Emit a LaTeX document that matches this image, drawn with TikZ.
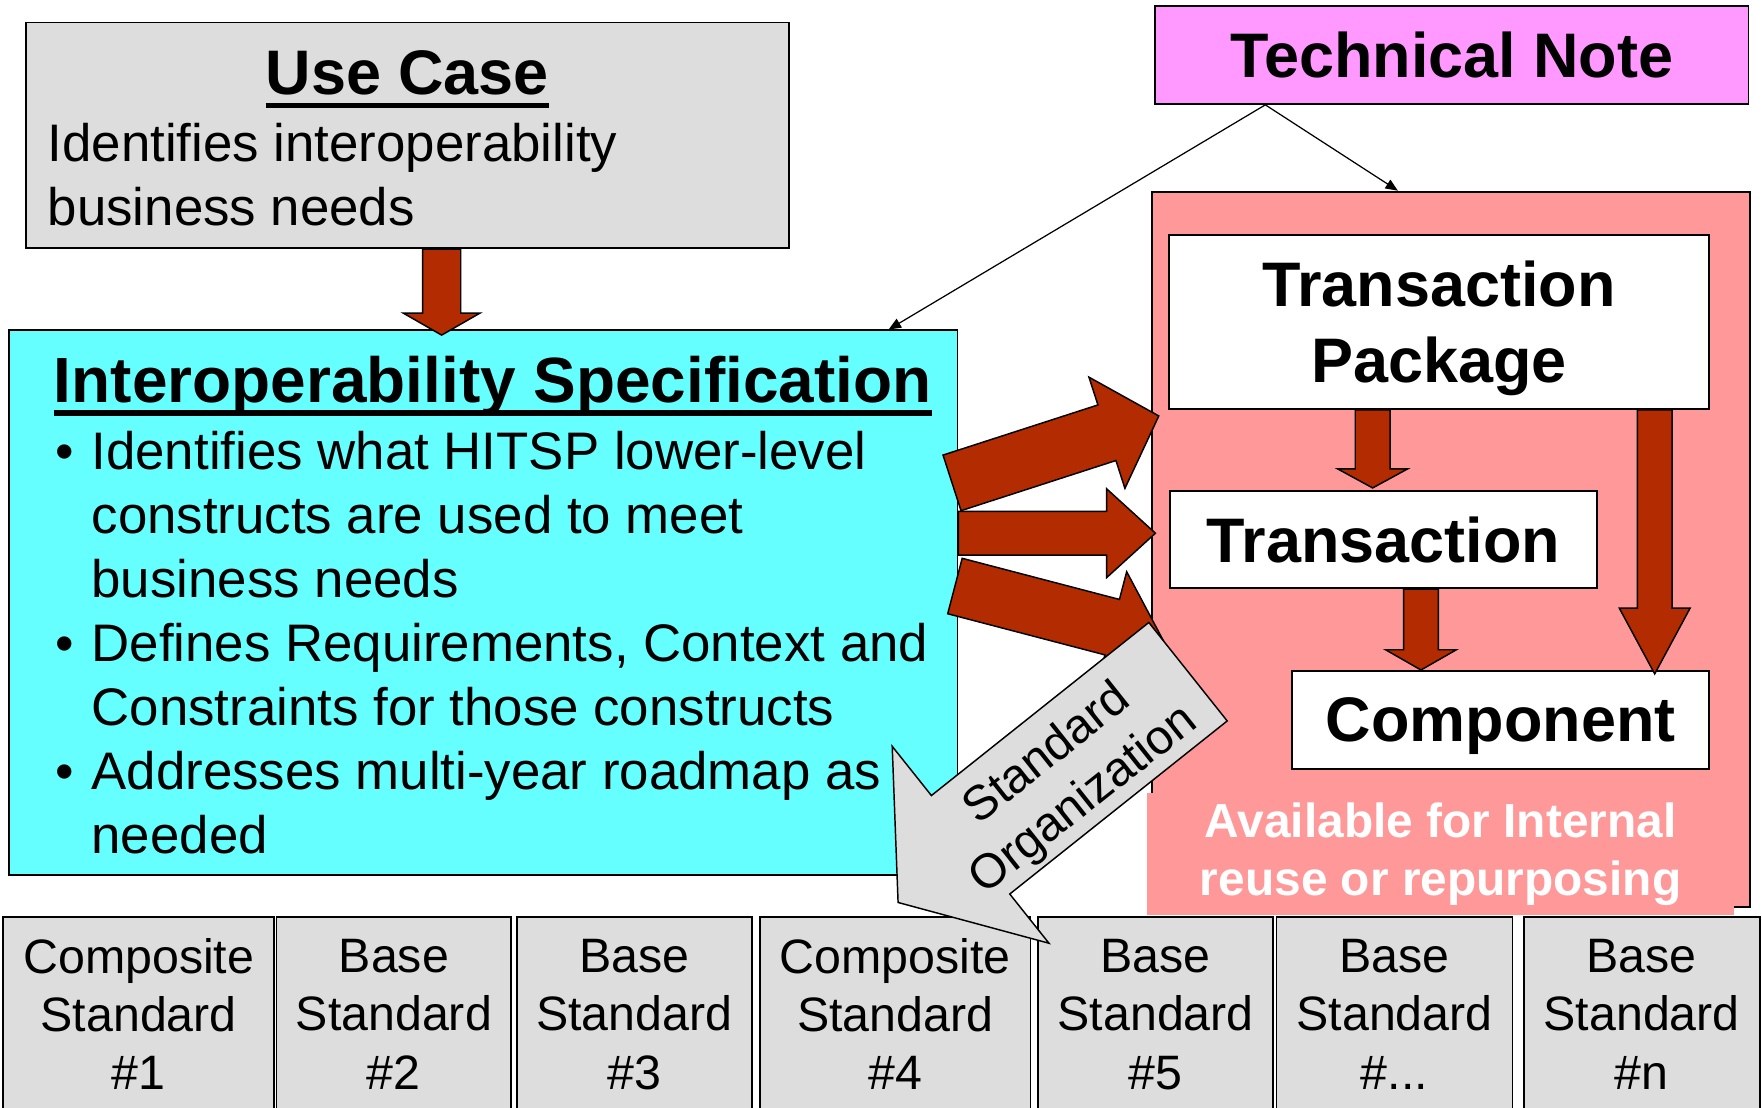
\documentclass[tikz,border=0pt]{standalone}
\usepackage{fontspec}
\setmainfont{Liberation Sans}
\usetikzlibrary{calc,arrows.meta}

\definecolor{ucgray}{HTML}{DDDDDD}
\definecolor{speccyan}{HTML}{66FFFF}
\definecolor{notepink}{HTML}{FF99FF}
\definecolor{reusepink}{HTML}{FF9999}
\definecolor{arrowred}{HTML}{B32B00}

\newcommand\hdfont{\bfseries\fontsize{56pt}{68pt}\selectfont}
\newcommand\specfont{\bfseries\fontsize{56.9pt}{68pt}\selectfont}
\newcommand\bodyfont{\fontsize{47pt}{57pt}\selectfont}
\newcommand\stdfont{\fontsize{43pt}{52pt}\selectfont}
\newcommand\availfont{\bfseries\fontsize{42.6pt}{52pt}\selectfont}
\newcommand\ulhead[1]{\sbox0{#1}\rlap{\rule[-12pt]{\wd0}{5pt}}\usebox0}
\newcommand\bitem{\makebox[32pt][l]{\textbullet}}
\newcommand\bcont{\hspace*{32pt}}

\begin{document}
\begin{tikzpicture}[x=1pt, y=-1pt,
  box/.style={draw, line width=1.6pt, inner sep=0pt},
  hdbox/.style={box, fill=white, align=center, text depth=0pt, font=\hdfont},
  stdbox/.style={box, fill=ucgray, anchor=north, minimum height=173pt,
    align=center, text depth=0pt, font=\stdfont},
  fat/.style n args={3}{draw, line width=1.3pt, to path={
    let \p1=($(\tikztotarget)-(\tikztostart)$), \n1={atan2(\y1,\x1)},
        \n2={veclen(\x1,\y1)} in
    ($(\tikztostart)+(\n1+90:#1/2)$)
    -- ($(\tikztostart)+(\n1:\n2-#3)+(\n1+90:#1/2)$)
    -- ($(\tikztostart)+(\n1:\n2-#3)+(\n1+90:#2/2)$)
    -- (\tikztotarget)
    -- ($(\tikztostart)+(\n1:\n2-#3)+(\n1-90:#2/2)$)
    -- ($(\tikztostart)+(\n1:\n2-#3)+(\n1-90:#1/2)$)
    -- ($(\tikztostart)+(\n1-90:#1/2)$) -- cycle}},
  redfat/.style n args={3}{fat={#1}{#2}{#3}, fill=arrowred},
  notearrow/.style={line width=1.1pt, -{Triangle[length=11pt,width=9pt]}}]

  \useasboundingbox (0,0) rectangle (1568,986);

  %% use case
  \node[box, fill=ucgray, minimum width=679pt, minimum height=201pt] (usecase) at (362.5,120.5) {};
  \node[anchor=base, font=\hdfont] (uctitle) at (362.5,84.5) {\ulhead{Use Case}};
  \node[anchor=base west, align=left, font=\bodyfont] (ucbody) at (39,200.8)
    {Identifies interoperability\\business needs}; % base = last line

  %% interoperability specification
  \node[box, fill=speccyan, minimum width=844pt, minimum height=485pt] (spec) at (430,536.5) {};
  \node[anchor=base west, font=\specfont] (spectitle) at (44.5,358) {\ulhead{Interoperability Specification}};
  \node[anchor=base west, align=left, font=\bodyfont] (specbody) at (46,759.5)
    {\bitem Identifies what HITSP lower-level\\
     \bcont constructs are used to meet\\
     \bcont business needs\\
     \bitem Defines Requirements, Context and\\
     \bcont Constraints for those constructs\\
     \bitem Addresses multi-year roadmap as\\
     \bcont needed};

  %% technical note
  \node[box, fill=notepink, minimum width=528pt, minimum height=87pt, font=\hdfont, text depth=0pt]
    (technote) at (1292,49) {Technical Note};

  %% reuse frame
  \node[box, fill=reusepink, minimum width=532pt, minimum height=636.5pt] (reuse) at (1291,488.75) {};
  \node[hdbox, minimum width=481pt, minimum height=155pt] (txpkg) at (1280.5,286.5) {Transaction\\Package};
  \node[hdbox, minimum width=380pt, minimum height=86.5pt] (tx) at (1231,480.25) {Transaction};
  \node[hdbox, minimum width=371pt, minimum height=87pt] (comp) at (1335.5,640.5) {Component};
  \node[fill=reusepink, text=white, inner sep=0pt, minimum width=523pt, minimum height=109pt,
    align=center, font=\availfont] (avail) at (1282,760) {Available for Internal\\reuse or repurposing};

  %% standards
  \node[stdbox, minimum width=241pt] (std1) at (123.5,815) {Composite\\Standard\\\#1};
  \node[stdbox, minimum width=209pt] (std2) at (350.5,815) {Base\\Standard\\\#2};
  \node[stdbox, minimum width=209pt] (std3) at (564.5,815) {Base\\Standard\\\#3};
  \node[stdbox, minimum width=241pt] (std4) at (796.5,815) {Composite\\Standard\\\#4};
  \node[stdbox, minimum width=209pt] (std5) at (1028.5,815) {Base\\Standard\\\#5};
  \node[stdbox, minimum width=210pt] (std6) at (1241,815) {Base\\Standard\\\#...};
  \node[stdbox, minimum width=210pt] (std7) at (1461,815) {Base\\Standard\\\#n};

  %% block arrows
  \draw[redfat={34pt}{68pt}{19.5pt}] ([xshift=30.5pt]usecase.south) to ([xshift=-37pt,yshift=-5pt]spec.north);
  \draw[redfat={31pt}{62.5pt}{17pt}] ([xshift=-59pt]txpkg.south) to ([xshift=-9.5pt,yshift=2pt]tx.north);
  \draw[redfat={31pt}{63pt}{18pt}] ([xshift=33.5pt]tx.south) to ([xshift=-71pt]comp.north);
  \draw[redfat={31pt}{63pt}{58.5pt}] ([xshift=192pt]txpkg.south) to ([xshift=137pt,yshift=-3.5pt]comp.north);

  \coordinate (up0) at ([xshift=-5.6pt,yshift=106.8pt]spec.east);
  \coordinate (up1) at ([xshift=7pt,yshift=118.6pt]reuse.west);
  \coordinate (mid0) at ([yshift=62pt]spec.east);
  \coordinate (mid1) at ([xshift=4pt,yshift=14.25pt]reuse.west);
  \coordinate (dn0) at ([xshift=-3pt,yshift=15pt]spec.east);
  \coordinate (dn1) at ([xshift=11pt,yshift=-81.25pt]reuse.west);
  \draw[redfat={52pt}{104pt}{48.5pt}] (up0) to (up1);
  \draw[redfat={39pt}{79pt}{43.4pt}] (mid0) to (mid1);
  \draw[redfat={51pt}{102pt}{47pt}] (dn0) to (dn1);

  %% technical note links
  \draw[notearrow] ([xshift=-166pt]technote.south) -- ([xshift=-62pt]spec.north east);
  \draw[notearrow] ([xshift=-166pt]technote.south) -- ([xshift=-47pt]reuse.north);

  %% standard organization
  \coordinate (org0) at ([xshift=33pt,yshift=-109pt]reuse.west);
  \coordinate (org1) at ([xshift=2.7pt,yshift=11.9pt]std4.north);
  \draw[fat={112pt}{224pt}{82.4pt}, fill=ucgray] (org0) to (org1);
  \node[rotate=38.4, align=center, text depth=0pt, inner sep=0pt, font=\stdfont] (stdorg) at (946,689)
    {Standard\\Organization};

\end{tikzpicture}
\end{document}
